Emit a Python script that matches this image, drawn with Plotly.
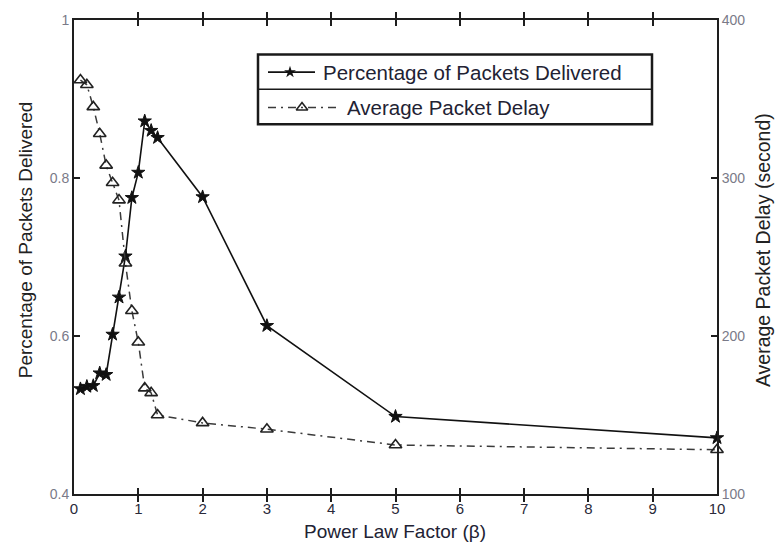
import plotly.graph_objects as go

# Power law factor values (beta) used in the simulations
beta = [0.1, 0.2, 0.3, 0.4, 0.5, 0.6, 0.7, 0.8, 0.9, 1.0, 1.1, 1.2, 1.3, 2, 3, 5, 10]

# Fraction of packets delivered for each beta
delivered = [0.533, 0.536, 0.537, 0.553, 0.551, 0.602, 0.649, 0.701, 0.775, 0.807,
             0.872, 0.860, 0.851, 0.776, 0.613, 0.498, 0.471]

# Average packet delay in seconds for each beta
delay = [362, 359, 345, 328, 308, 297, 286, 246, 216, 196,
         167, 164, 150, 145, 141, 131, 128]

x_ticks = list(range(0, 11))
left_ticks = [0.4, 0.6, 0.8, 1.0]
left_labels = ["0.4", "0.6", "0.8", "1"]
right_ticks = [100, 200, 300, 400]

name_delivered = "Percentage of Packets Delivered"
name_delay = "Average Packet Delay"

W, H = 777, 548
L, R, T, B = 74, 717, 12, 494  # plot-area edges in pixels


def px(x):
    return (x - L) / (R - L)


def py(y):
    return (B - y) / (B - T)


FONT = "Liberation Sans, Arial, Helvetica, sans-serif"
AX = "#1e1e1e"

fig = go.Figure()

fig.add_trace(go.Scatter(
    x=beta, y=delivered, name=name_delivered, mode="lines+markers",
    line=dict(color="#111111", width=1.6),
    marker=dict(symbol="star", size=10, color="#111111",
                line=dict(color="#111111", width=1)),
    cliponaxis=False, showlegend=False,
))

fig.add_trace(go.Scatter(
    x=beta, y=delay, name=name_delay, mode="lines+markers", yaxis="y2",
    line=dict(color="#3a3a3a", width=1.5, dash="8px,5px,2px,5px"),
    marker=dict(symbol="triangle-up-open", size=11, color="#222222",
                line=dict(color="#222222", width=1.6)),
    cliponaxis=False, showlegend=False,
))

# Legend sample markers, placed on a hidden overlay axis in paper units
leg_y1, leg_y2 = 65, 101
fig.add_trace(go.Scatter(
    x=[px(290)], y=[py(leg_y1)], xaxis="x3", yaxis="y3", mode="markers",
    marker=dict(symbol="star", size=9, color="#111111"),
    showlegend=False, hoverinfo="skip", cliponaxis=False,
))
fig.add_trace(go.Scatter(
    x=[px(302)], y=[py(leg_y2)], xaxis="x3", yaxis="y3", mode="markers",
    marker=dict(symbol="triangle-up-open", size=10, color="#222222",
                line=dict(color="#222222", width=1.6)),
    showlegend=False, hoverinfo="skip", cliponaxis=False,
))

shapes = [
    # legend box and row divider
    dict(type="rect", xref="paper", yref="paper",
         x0=px(258), x1=px(652), y0=py(47), y1=py(118),
         line=dict(color="#1a1a1a", width=2.5), fillcolor="white", layer="below"),
    dict(type="line", xref="paper", yref="paper",
         x0=px(258), x1=px(652), y0=py(82.5), y1=py(82.5),
         line=dict(color="#1a1a1a", width=1.5)),
    # legend line samples
    dict(type="line", xref="paper", yref="paper",
         x0=px(268), x1=px(315), y0=py(leg_y1), y1=py(leg_y1),
         line=dict(color="#111111", width=1.6)),
    dict(type="line", xref="paper", yref="paper",
         x0=px(268), x1=px(337), y0=py(leg_y2), y1=py(leg_y2),
         line=dict(color="#3a3a3a", width=1.5, dash="8px,5px,2px,5px")),
]

annotations = [
    dict(text=name_delivered, xref="paper", yref="paper", x=px(321), y=py(leg_y1),
         xanchor="left", yanchor="middle", showarrow=False,
         font=dict(family=FONT, size=20.5, color="#222233")),
    dict(text=name_delay, xref="paper", yref="paper", x=px(345), y=py(leg_y2),
         xanchor="left", yanchor="middle", showarrow=False,
         font=dict(family=FONT, size=20.5, color="#222233")),
    dict(text="Power Law Factor (β)", xref="paper", yref="paper", x=px(395), y=py(532),
         xanchor="center", yanchor="middle", showarrow=False,
         font=dict(family=FONT, size=19, color="#222233")),
    dict(text=name_delivered, xref="paper", yref="paper", x=px(25), y=py(236),
         xanchor="center", yanchor="middle", showarrow=False, textangle=-90,
         font=dict(family=FONT, size=19, color="#222222")),
    dict(text="Average Packet Delay (second)", xref="paper", yref="paper", x=px(763), y=py(246),
         xanchor="center", yanchor="middle", showarrow=False, textangle=-90,
         font=dict(family=FONT, size=19.5, color="#222222")),
]

fig.update_layout(
    width=W, height=H,
    margin=dict(l=L, r=W - R, t=T, b=H - B, pad=0),
    paper_bgcolor="white", plot_bgcolor="white",
    showlegend=False,
    font=dict(family=FONT),
    xaxis=dict(
        range=[0, 10], tickvals=x_ticks, ticks="inside", ticklen=6, tickwidth=1.5,
        tickcolor=AX, showline=True, linewidth=2, linecolor=AX, mirror="allticks",
        showgrid=False, zeroline=False,
        tickfont=dict(family=FONT, size=15, color="#2a2a3a"),
    ),
    yaxis=dict(
        range=[0.4, 1.0], tickvals=left_ticks, ticktext=left_labels, ticks="inside",
        ticklen=6, tickwidth=1.5, tickcolor=AX, showline=True, linewidth=2,
        linecolor=AX, showgrid=False, zeroline=False,
        tickfont=dict(family=FONT, size=14, color="#7a7a88"),
    ),
    yaxis2=dict(
        range=[100, 400], tickvals=right_ticks, overlaying="y", side="right",
        ticks="inside", ticklen=6, tickwidth=1.5, tickcolor=AX, showline=True,
        linewidth=2, linecolor=AX, showgrid=False, zeroline=False,
        tickfont=dict(family=FONT, size=14, color="#7a7a88"),
    ),
    xaxis3=dict(range=[0, 1], overlaying="x", visible=False, fixedrange=True),
    yaxis3=dict(range=[0, 1], overlaying="y", visible=False, fixedrange=True),
    shapes=shapes,
    annotations=annotations,
)

fig.write_html("out.html")
